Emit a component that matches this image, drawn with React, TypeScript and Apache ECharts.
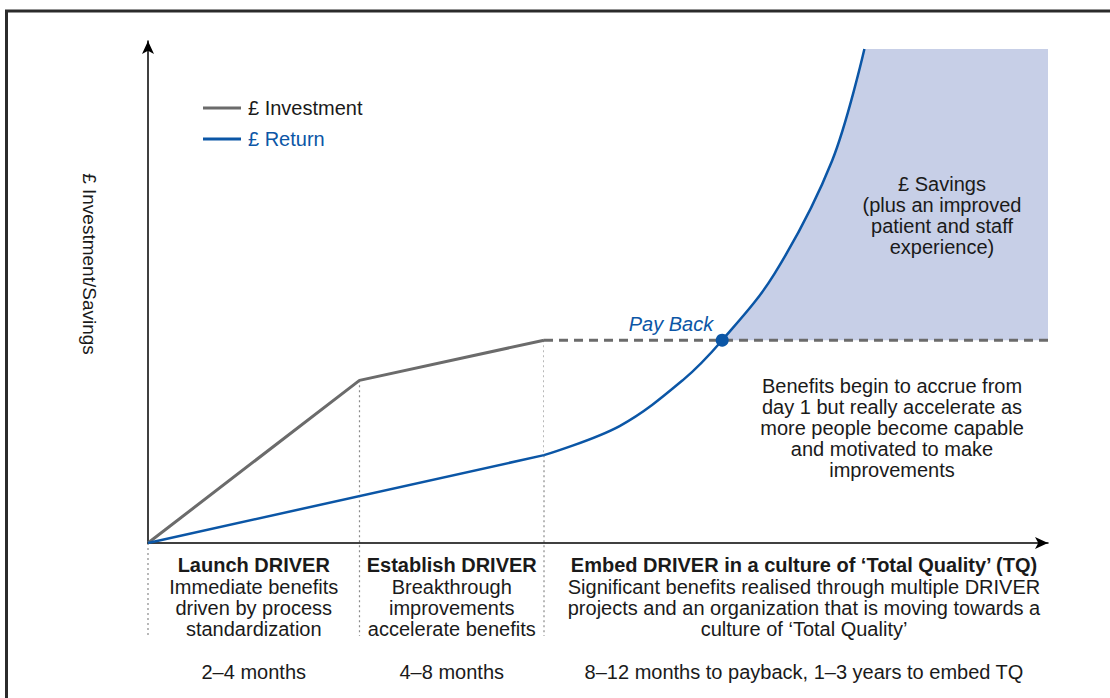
import React, { useEffect, useRef } from "react";
import * as echarts from "echarts";

const FONT = "'Liberation Sans', Arial, Helvetica, sans-serif";
const INK = "#1a1a1a";
const GRAY = "#6b6b6b";
const BLUE = "#0b56a6";
const SHADE = "#c7cfe7";

// Data (conceptual units: x = time, y = £)
const investment: [number, number][] = [[0, 0], [23.5, 32.4], [44, 40.4]];
const paybackLevel: [number, number][] = [[44, 40.4], [100, 40.4]];
const returnLinear: [number, number][] = [[0, 0], [44, 17.5]];
const returnCurve: [number, number][] = [
  [44, 17.5], [52.4, 23.3], [59.4, 32.4], [63.8, 40.4],
  [69.6, 53.6], [76.0, 76.1], [79.6, 98.4],
];
const paybackPoint: [number, number][] = [[63.8, 40.4]];
const savingsTop: [number, number][] = [[63.8, 98.4], [100, 98.4]];
const savingsBase = 40.4;

const phaseBounds = [0, 23.5, 44, 100];
const phaseTitles = ["Launch DRIVER", "Establish DRIVER", "Embed DRIVER in a culture of \u2018Total Quality\u2019 (TQ)"];
const phaseBodies = [
  "Immediate benefits\ndriven by process\nstandardization",
  "Breakthrough\nimprovements\naccelerate benefits",
  "Significant benefits realised through multiple DRIVER\nprojects and an organization that is moving towards a\nculture of \u2018Total Quality\u2019",
];
const phaseDurations = ["2\u20134 months", "4\u20138 months", "8\u201312 months to payback, 1\u20133 years to embed TQ"];
const guideXs = [0, 23.5, 44];
const guideYs = [0, 32.4, 40.4];

const savingsText = "\u00a3 Savings\n(plus an improved\npatient and staff\nexperience)";
const benefitsText = "Benefits begin to accrue from\nday 1 but really accelerate as\nmore people become capable\nand motivated to make\nimprovements";

const SMOOTH = 0.35;

export default function App() {
  const ref = useRef<HTMLDivElement>(null);
  useEffect(() => {
    if (!ref.current) return;
    const chart = echarts.init(ref.current, null, { renderer: "svg" });
    const axisCommon = {
      type: "value" as const,
      min: 0,
      max: 100,
      axisLine: {
        show: true,
        onZero: true,
        symbol: ["none", "arrow"],
        symbolSize: [9, 13],
        lineStyle: { color: "#000", width: 1.5 },
      },
      axisTick: { show: false },
      axisLabel: { show: false },
      splitLine: { show: false },
    };
    chart.setOption({
      animation: false,
      textStyle: { fontFamily: FONT },
      grid: { left: 148, right: 62, top: 41, bottom: 155 },
      xAxis: axisCommon,
      yAxis: axisCommon,
      legend: {
        data: [
          { name: "\u00a3 Investment", textStyle: { color: INK } },
          { name: "\u00a3 Return", textStyle: { color: BLUE } },
        ],
        orient: "vertical",
        left: 198,
        top: 93,
        icon: "rect",
        itemWidth: 38,
        itemHeight: 3,
        itemGap: 11,
        selectedMode: false,
        textStyle: { fontSize: 20, fontFamily: FONT, padding: [0, 0, 0, 2] },
      },
      series: [
        {
          name: "Savings",
          type: "line",
          data: savingsTop,
          symbol: "none",
          lineStyle: { width: 0, opacity: 0 },
          itemStyle: { color: SHADE },
          areaStyle: { color: SHADE, opacity: 1, origin: savingsBase },
          z: 1,
          silent: true,
        },
        {
          name: "mask",
          type: "line",
          data: returnCurve,
          smooth: SMOOTH,
          symbol: "none",
          lineStyle: { width: 0, opacity: 0 },
          itemStyle: { color: "#fff" },
          areaStyle: { color: "#fff", opacity: 1, origin: "end" },
          z: 1,
          silent: true,
        },
        {
          name: "\u00a3 Investment",
          type: "line",
          data: investment,
          symbol: "none",
          itemStyle: { color: GRAY },
          lineStyle: { color: GRAY, width: 3 },
          z: 3,
        },
        {
          name: "Investment level",
          type: "line",
          data: paybackLevel,
          symbol: "none",
          itemStyle: { color: GRAY },
          lineStyle: { color: GRAY, width: 3, type: [9, 6] },
          z: 3,
        },
        {
          name: "\u00a3 Return",
          type: "line",
          data: returnLinear,
          symbol: "none",
          itemStyle: { color: BLUE },
          lineStyle: { color: BLUE, width: 2.5 },
          z: 4,
        },
        {
          name: "\u00a3 Return",
          type: "line",
          data: returnCurve,
          smooth: SMOOTH,
          symbol: "none",
          itemStyle: { color: BLUE },
          lineStyle: { color: BLUE, width: 2.5 },
          z: 4,
        },
        {
          name: "Pay Back",
          type: "scatter",
          data: paybackPoint,
          symbolSize: 13,
          itemStyle: { color: BLUE, opacity: 1 },
          z: 5,
        },
      ],
    });

    const px = (p: [number, number]) => chart.convertToPixel({ gridIndex: 0 }, p) as number[];
    const graphics: any[] = [];
    graphics.push({
      type: "rect",
      shape: { x: 6.5, y: 11, width: 1300, height: 900 },
      style: { fill: "none", stroke: "#2b2b2b", lineWidth: 3 },
      z: 10,
      silent: true,
    });
    graphics.push({
      type: "text",
      x: 89,
      y: 264,
      rotation: -Math.PI / 2,
      z: 6,
      style: {
        text: "\u00a3 Investment/Savings",
        fontSize: 19,
        fontFamily: FONT,
        fill: INK,
        align: "center",
        verticalAlign: "middle",
      },
    });
    guideXs.forEach((gx, i) => {
      const top = px([gx, guideYs[i]]);
      graphics.push({
        type: "line",
        shape: { x1: top[0], y1: top[1], x2: top[0], y2: 636 },
        style: { stroke: "#8a8a8a", lineWidth: 1.2, lineDash: [2, 3] },
        z: 0,
        silent: true,
      });
    });
    for (let i = 0; i < 3; i++) {
      const a = px([phaseBounds[i], 0])[0];
      const b = px([phaseBounds[i + 1], 0])[0];
      const cx = (a + b) / 2 + (i === 2 ? 8 : 0);
      graphics.push({
        type: "text",
        x: cx,
        y: 565,
        z: 6,
        style: {
          text: phaseTitles[i],
          fontSize: 20,
          fontWeight: "bold",
          fontFamily: FONT,
          fill: INK,
          align: "center",
          verticalAlign: "middle",
        },
      });
      graphics.push({
        type: "text",
        x: cx,
        y: 608,
        z: 6,
        style: {
          text: phaseBodies[i],
          fontSize: 20,
          lineHeight: 21,
          fontFamily: FONT,
          fill: INK,
          align: "center",
          verticalAlign: "middle",
        },
      });
      graphics.push({
        type: "text",
        x: cx,
        y: 672,
        z: 6,
        style: {
          text: phaseDurations[i],
          fontSize: 20,
          fontFamily: FONT,
          fill: INK,
          align: "center",
          verticalAlign: "middle",
        },
      });
    }
    const pb = px(paybackPoint[0]);
    graphics.push({
      type: "text",
      x: pb[0] - 9,
      y: pb[1] - 16,
      z: 20,
      style: {
        text: "Pay Back",
        fontSize: 20,
        fontStyle: "italic",
        fontFamily: FONT,
        fill: BLUE,
        align: "right",
        verticalAlign: "middle",
      },
    });
    graphics.push({
      type: "text",
      x: 942,
      y: 215,
      style: {
        text: savingsText,
        fontSize: 20,
        lineHeight: 21,
        fontFamily: FONT,
        fill: INK,
        align: "center",
        verticalAlign: "middle",
      },
      z: 6,
    });
    graphics.push({
      type: "text",
      x: 892,
      y: 428,
      style: {
        text: benefitsText,
        fontSize: 20,
        lineHeight: 21,
        fontFamily: FONT,
        fill: INK,
        align: "center",
        verticalAlign: "middle",
      },
      z: 6,
    });
    chart.setOption({ graphic: graphics });

    return () => chart.dispose();
  }, []);
  return (
    <div
      ref={ref}
      style={{ position: "fixed", left: 0, top: 0, width: 1110, height: 698, background: "#fff" }}
    />
  );
}
